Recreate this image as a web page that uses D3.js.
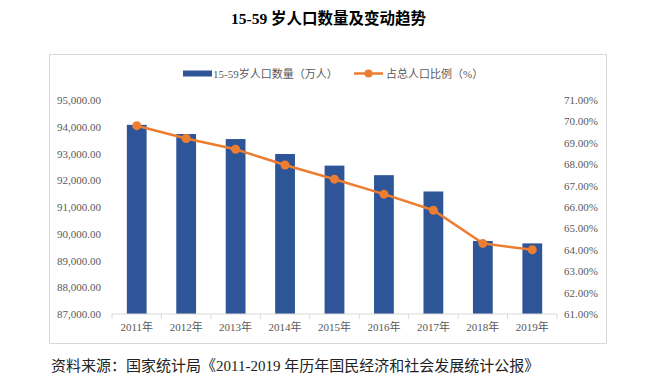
<!DOCTYPE html>
<html><head><meta charset="utf-8">
<script src="https://cdn.jsdelivr.net/npm/d3@7"></script>
<style>body{margin:0;background:#fff}</style>
</head><body>
<svg id="c" width="660" height="392"></svg>
<script>
const years = ["2011年","2012年","2013年","2014年","2015年","2016年","2017年","2018年","2019年"];
const population = [94072, 93727, 93540, 92982, 92547, 92190, 91580, 89729, 89640];
const share = [69.8, 69.2, 68.7, 67.96, 67.3, 66.6, 65.85, 64.3, 64.0];
const leftTicks = [87000, 88000, 89000, 90000, 91000, 92000, 93000, 94000, 95000];
const rightTicks = [61, 62, 63, 64, 65, 66, 67, 68, 69, 70, 71];
const title = "15-59 岁人口数量及变动趋势";
const source = "资料来源：国家统计局《2011-2019 年历年国民经济和社会发展统计公报》";
const legendBar = "15-59岁人口数量（万人）";
const legendLine = "占总人口比例（%）";

const svg = d3.select("#c");
const font = "'Liberation Serif','Noto Sans CJK SC',serif";
const gray = "#595959";

svg.append("text").attr("x", 328.5).attr("y", 24).attr("text-anchor", "middle")
  .attr("font-family", font).attr("font-weight", "bold").attr("font-size", 15.5)
  .attr("fill", "#000").text(title);

svg.append("rect").attr("x", 49.5).attr("y", 54.5).attr("width", 557).attr("height", 289)
  .attr("fill", "#fff").attr("stroke", "#d9d9d9");

const x = d3.scaleBand().domain(years).range([112, 557]).paddingInner(0.6).paddingOuter(0.3);
const yL = d3.scaleLinear().domain([87000, 95000]).range([314, 100]);
const yR = d3.scaleLinear().domain([61, 71]).range([314, 100]);

// bars
svg.append("g").selectAll("rect").data(population).join("rect")
  .attr("x", (d, i) => x(years[i])).attr("width", x.bandwidth())
  .attr("y", d => yL(d)).attr("height", d => yL(87000) - yL(d))
  .attr("fill", "#2E5597");

// x axis
const xb = d3.scaleBand().domain(years).range([112, 557]);
const gx = svg.append("g").attr("transform", "translate(0,314)");
gx.append("line").attr("x1", 112).attr("x2", 557).attr("stroke", "#d9d9d9");
gx.selectAll("line.t").data(d3.range(years.length + 1)).join("line").attr("class", "t")
  .attr("x1", i => 112 + i * xb.step()).attr("x2", i => 112 + i * xb.step())
  .attr("y1", 0).attr("y2", 5).attr("stroke", "#d9d9d9");
gx.selectAll("text").data(years).join("text")
  .attr("x", d => xb(d) + xb.bandwidth() / 2).attr("y", 17).attr("text-anchor", "middle")
  .attr("font-family", font).attr("font-size", 11).attr("fill", gray).text(d => d);

// left axis labels
svg.append("g").selectAll("text").data(leftTicks).join("text")
  .attr("x", 101).attr("y", d => yL(d) + 4).attr("text-anchor", "end")
  .attr("font-family", font).attr("font-size", 11).attr("fill", gray)
  .text(d => d3.format(",.2f")(d));

// right axis labels
svg.append("g").selectAll("text").data(rightTicks).join("text")
  .attr("x", 564).attr("y", d => yR(d) + 4).attr("text-anchor", "start")
  .attr("font-family", font).attr("font-size", 11).attr("fill", gray)
  .text(d => d.toFixed(2) + "%");

// line
const line = d3.line().x((d, i) => x(years[i]) + x.bandwidth() / 2).y(d => yR(d));
svg.append("path").datum(share).attr("d", line).attr("fill", "none")
  .attr("stroke", "#ED7D31").attr("stroke-width", 2.5);
svg.append("g").selectAll("circle").data(share).join("circle")
  .attr("cx", (d, i) => x(years[i]) + x.bandwidth() / 2).attr("cy", d => yR(d))
  .attr("r", 4.5).attr("fill", "#ED7D31");

// legend
const lg = svg.append("g");
lg.append("rect").attr("x", 183).attr("y", 70.5).attr("width", 29).attr("height", 6).attr("fill", "#2E5597");
lg.append("text").attr("x", 213).attr("y", 77.5).attr("font-family", font).attr("font-size", 11)
  .attr("fill", gray).text(legendBar);
lg.append("line").attr("x1", 354).attr("x2", 383).attr("y1", 73.5).attr("y2", 73.5)
  .attr("stroke", "#ED7D31").attr("stroke-width", 2.5);
lg.append("circle").attr("cx", 368.5).attr("cy", 73.5).attr("r", 4).attr("fill", "#ED7D31");
lg.append("text").attr("x", 386).attr("y", 77.5).attr("font-family", font).attr("font-size", 11)
  .attr("fill", gray).text(legendLine);

svg.append("text").attr("x", 51).attr("y", 371)
  .attr("font-family", font).attr("font-size", 15).attr("fill", "#222").text(source);
</script>
</body></html>
